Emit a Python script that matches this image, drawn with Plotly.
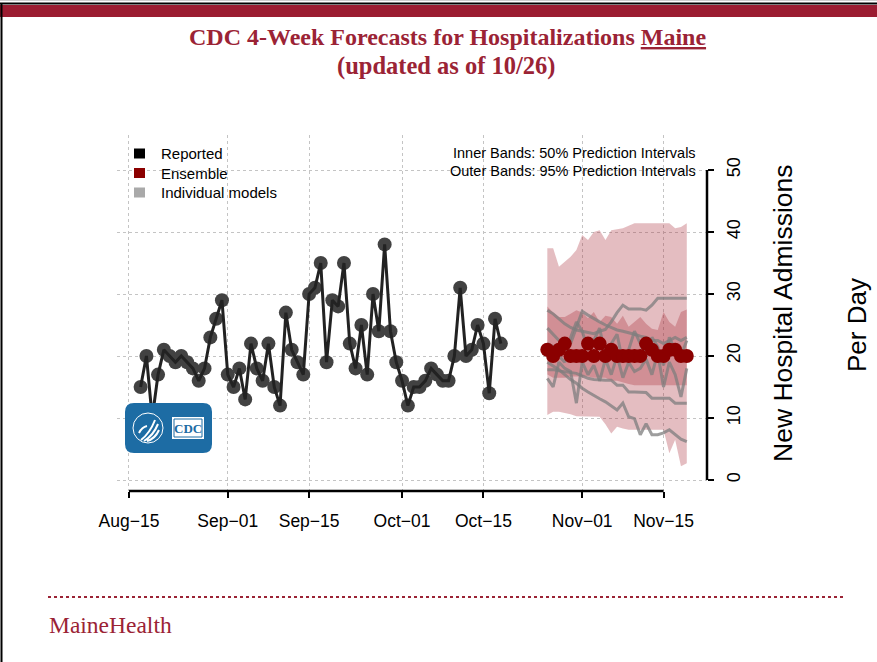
import pandas as pd
import plotly.graph_objects as go

# ---------------- data ----------------
reported_start = "2021-08-17"
reported = [15, 20, 10, 17, 21, 20, 19, 20, 19, 18, 16, 18, 23, 26, 29,
            17, 15, 18, 13, 22, 18, 16, 22, 15, 12, 27, 21, 19, 17, 30,
            31, 35, 19, 29, 28, 35, 22, 18, 25, 17, 30, 24, 38, 24, 19,
            16, 12, 15, 15, 16, 18, 17, 16, 16, 20, 31, 20, 21, 25, 22, 14, 26, 22]

forecast_start = "2021-10-26"
ensemble = [21, 20, 21, 22, 20, 20, 20, 22, 20, 22, 20, 21, 20, 20, 20, 20, 20,
            22, 21, 20, 20, 21, 21, 20, 20]
upper95 = [37.4, 37.4, 34.4, 35.2, 36, 37.1, 39.5, 38.7, 40, 40.3, 38.7, 40.3, 40.4,
           40.6, 41, 41.4, 41.4, 41.4, 41.4, 41.4, 41.4, 41.4, 40.6, 40.8, 41.4]
lower95 = [10.5, 11, 11, 10.8, 10.6, 10.3, 10.2, 10.2, 10.2, 10.2, 9, 7.5, 8.6, 8.3,
           8.1, 8.1, 8.1, 8.1, 8.1, 8.1, 8.1, 4.3, 6.5, 2.2, 2.7]
upper50 = [28, 27, 26.3, 26.3, 26.8, 27.4, 27, 26.1, 27.1, 25.5, 26.5, 26.3, 25.2,
           26.5, 24.7, 25.5, 26.3, 25.2, 24.4, 24.2, 27.1, 25.5, 24.7, 27.1, 27.5]
lower50 = [17, 16.5, 16.5, 16.5, 16.7, 16.7, 16.7, 16.7, 16.5, 16.5, 16.5, 16, 16,
           15.8, 15.5, 15.3, 15.3, 15.3, 15.3, 15.3, 15.3, 15.3, 15.3, 15.3, 15.3]

model_1 = [27.4, 26.8, 26, 25.2, 24.6, 24.2, 24, 23.8, 23.6, 24, 24.3, 25.5, 27, 28.2,
           27.6, 27.6, 27.6, 27.4, 28.2, 29.3, 29.3, 29.3, 29.3, 29.3, 29.3]
model_2 = [24.5, 23.5, 22.5, 21.5, 22, 24.5, 27.2, 26.6, 26, 25.5, 25, 24.6, 24.2, 24,
           23.8, 23.5, 23.2, 23, 22.5, 22.5, 22, 22.5, 23, 22.5, 23]
model_3 = [16.4, 15, 19, 18, 17.5, 12.4, 19, 17, 18.5, 16, 19.5, 17, 20, 16.5, 19,
           17.5, 18, 19.5, 17, 20.5, 15, 19, 17, 13.4, 18]
model_4 = [17.8, 17.8, 17.6, 17.5, 17.3, 17.2, 16.8, 16.4, 16.2, 16.1, 16.1, 16.1, 15.3,
           15.3, 14.2, 14.2, 14.2, 14.1, 13.2, 13.2, 13.2, 13.2, 12.4, 12.4, 12.4]
model_5 = [19, 18.4, 17.8, 17, 16.2, 15.6, 14.8, 14.2, 13.6, 13.1, 12.6, 12, 11.3, 12.4,
           10.2, 9.9, 7.3, 9.1, 7.3, 7.3, 7.6, 8.1, 7.4, 6.6, 6.2]
model_6 = [22, 21.5, 20, 19, 23, 25.5, 24, 21, 22.5, 24.5, 20, 22, 23.5, 19, 21, 24,
           22, 20, 23, 21.5, 18.5, 23, 21, 20, 22.5]
models = [model_1, model_2, model_3, model_4, model_5, model_6]

tick_dates = ["2021-08-15", "2021-09-01", "2021-09-15", "2021-10-01",
              "2021-10-15", "2021-11-01", "2021-11-15"]
tick_labels = ["Aug\u221215", "Sep\u221201", "Sep\u221215", "Oct\u221201",
               "Oct\u221215", "Nov\u221201", "Nov\u221215"]
y_ticks = [0, 10, 20, 30, 40, 50]

# ---------------- layout geometry (pixels) ----------------
W, H = 877, 662
L, R, T, B = 117, 707, 135, 491
PW, PH = R - L, B - T


def px(x):
    return (x - L) / PW


def py(y):
    return (B - y) / PH


DARKRED = "#9b2335"

rep_dates = pd.date_range(reported_start, periods=len(reported), freq="D")
fc_dates = pd.date_range(forecast_start, periods=len(ensemble), freq="D")
fc_x = list(fc_dates)
fc_x_rev = fc_x[::-1]

fig = go.Figure()

band_color = "rgba(165,35,50,0.30)"
fig.add_trace(go.Scatter(x=fc_x + fc_x_rev, y=upper95 + lower95[::-1], fill="toself",
                         fillcolor=band_color, line=dict(width=0), mode="lines",
                         hoverinfo="skip", showlegend=False))
fig.add_trace(go.Scatter(x=fc_x + fc_x_rev, y=upper50 + lower50[::-1], fill="toself",
                         fillcolor=band_color, line=dict(width=0), mode="lines",
                         hoverinfo="skip", showlegend=False))
for m in models:
    fig.add_trace(go.Scatter(x=fc_x, y=m, mode="lines",
                             line=dict(color="rgba(125,125,125,0.75)", width=3),
                             showlegend=False))
fig.add_trace(go.Scatter(x=fc_x, y=ensemble, mode="lines+markers",
                         line=dict(color="#8b0000", width=2),
                         marker=dict(color="#8b0000", size=14), showlegend=False))
fig.add_trace(go.Scatter(x=rep_dates, y=reported, mode="markers",
                         marker=dict(color="#424242", size=14), showlegend=False))
fig.add_trace(go.Scatter(x=rep_dates, y=reported, mode="lines",
                         line=dict(color="#222222", width=3), showlegend=False))

shapes = []
ann = []

# axis lines (R style, only over tick range)
shapes.append(dict(type="line", xref="x", yref="paper", x0=tick_dates[0], x1=tick_dates[-1],
                   y0=0, y1=0, line=dict(color="black", width=2.5)))
shapes.append(dict(type="line", xref="paper", yref="y", x0=1, x1=1, y0=y_ticks[0],
                   y1=y_ticks[-1], line=dict(color="black", width=2.5)))

# page frame
shapes.append(dict(type="rect", xref="paper", yref="paper", x0=px(0), x1=px(W),
                   y0=py(17), y1=py(5), fillcolor="#9b1c31", line=dict(width=0), layer="above"))
shapes.append(dict(type="line", xref="paper", yref="paper", x0=px(0), x1=px(W),
                   y0=py(3.5), y1=py(3.5), line=dict(color="black", width=2), layer="above"))
shapes.append(dict(type="line", xref="paper", yref="paper", x0=px(0), x1=px(W),
                   y0=py(0.5), y1=py(0.5), line=dict(color="#cccccc", width=1), layer="above"))
shapes.append(dict(type="line", xref="paper", yref="paper", x0=px(1.5), x1=px(1.5),
                   y0=py(3), y1=py(H), line=dict(color="black", width=2), layer="above"))
# footer dotted line
shapes.append(dict(type="line", xref="paper", yref="paper", x0=px(48), x1=px(845),
                   y0=py(597), y1=py(597), line=dict(color=DARKRED, width=2, dash="dot")))

# legend squares
legend_items = [("Reported", "black", 153.5), ("Ensemble", "#8b0000", 173),
                ("Individual models", "#a9a9a9", 192.5)]
for name, col, yc in legend_items:
    shapes.append(dict(type="rect", xref="paper", yref="paper", x0=px(134), x1=px(145),
                       y0=py(yc + 5), y1=py(yc - 5), fillcolor=col, line=dict(width=0)))
    ann.append(dict(text=name, xref="paper", yref="paper", x=px(159), y=py(yc),
                    xanchor="left", yanchor="middle", showarrow=False,
                    font=dict(family="Liberation Sans, Arial", size=15, color="black")))

ann.append(dict(text="Inner Bands: 50% Prediction Intervals", xref="paper", yref="paper",
                x=px(698), y=py(153), xanchor="right", yanchor="middle", showarrow=False,
                font=dict(family="Liberation Sans, Arial", size=14.5, color="black")))
ann.append(dict(text="Outer Bands: 95% Prediction Intervals", xref="paper", yref="paper",
                x=px(698), y=py(171), xanchor="right", yanchor="middle", showarrow=False,
                font=dict(family="Liberation Sans, Arial", size=14.5, color="black")))

# axis title (two parts)
ann.append(dict(text="New Hospital Admissions", xref="paper", yref="paper", x=px(783),
                y=py(313), textangle=-90, showarrow=False, xanchor="center", yanchor="middle",
                font=dict(family="Liberation Sans, Arial", size=26.5, color="black")))
ann.append(dict(text="Per Day", xref="paper", yref="paper", x=px(857),
                y=py(325), textangle=-90, showarrow=False, xanchor="center", yanchor="middle",
                font=dict(family="Liberation Sans, Arial", size=26, color="black")))

# title
ann.append(dict(text="<b>CDC 4-Week Forecasts for Hospitalizations <u>Maine</u></b>",
                xref="paper", yref="paper", x=px(447), y=py(37), showarrow=False,
                xanchor="center", yanchor="middle",
                font=dict(family="Liberation Serif, Times New Roman", size=24, color=DARKRED)))
ann.append(dict(text="<b>(updated as of 10/26)</b>",
                xref="paper", yref="paper", x=px(446), y=py(66), showarrow=False,
                xanchor="center", yanchor="middle",
                font=dict(family="Liberation Serif, Times New Roman", size=24.5, color=DARKRED)))

# footer brand
ann.append(dict(text="MaineHealth", xref="paper", yref="paper", x=px(47), y=py(625),
                showarrow=False, xanchor="left", yanchor="middle",
                font=dict(family="Liberation Serif, Times New Roman", size=23.5, color=DARKRED)))


# CDC logo
def rrect(x0, y0, x1, y1, r):
    X = px
    Y = py
    return (f"M {X(x0+r)},{Y(y0)} L {X(x1-r)},{Y(y0)} Q {X(x1)},{Y(y0)} {X(x1)},{Y(y0+r)} "
            f"L {X(x1)},{Y(y1-r)} Q {X(x1)},{Y(y1)} {X(x1-r)},{Y(y1)} "
            f"L {X(x0+r)},{Y(y1)} Q {X(x0)},{Y(y1)} {X(x0)},{Y(y1-r)} "
            f"L {X(x0)},{Y(y0+r)} Q {X(x0)},{Y(y0)} {X(x0+r)},{Y(y0)} Z")


shapes.append(dict(type="path", xref="paper", yref="paper", path=rrect(125, 403, 212, 453, 9),
                   fillcolor="#1d6ca4", line=dict(width=0), layer="above"))
shapes.append(dict(type="rect", xref="paper", yref="paper", x0=px(172), x1=px(204),
                   y0=py(439), y1=py(417), fillcolor="white", line=dict(width=0), layer="above"))
shapes.append(dict(type="rect", xref="paper", yref="paper", x0=px(174), x1=px(202),
                   y0=py(437), y1=py(419), fillcolor="white",
                   line=dict(color="#1d6ca4", width=1), layer="above"))
shapes.append(dict(type="circle", xref="paper", yref="paper", x0=px(133), x1=px(163),
                   y0=py(443), y1=py(413), line=dict(color="white", width=1), layer="above"))
eagle = (f"M {px(141)},{py(440)} Q {px(150)},{py(433)} {px(155)},{py(420)} "
         f"M {px(144)},{py(441)} Q {px(153)},{py(436)} {px(158)},{py(424)} "
         f"M {px(147)},{py(441)} Q {px(155)},{py(439)} {px(159)},{py(430)} "
         f"M {px(139)},{py(433)} Q {px(142)},{py(427)} {px(147)},{py(426)}")
shapes.append(dict(type="path", xref="paper", yref="paper", path=eagle,
                   line=dict(color="white", width=2), layer="above"))
ann.append(dict(text="<b>CDC</b>", xref="paper", yref="paper", x=px(188), y=py(428),
                showarrow=False, xanchor="center", yanchor="middle",
                font=dict(family="Liberation Serif, Times New Roman", size=13, color="#1d6ca4")))

fig.update_layout(
    width=W, height=H,
    margin=dict(l=L, r=W - R, t=T, b=H - B, pad=0),
    paper_bgcolor="white", plot_bgcolor="white",
    showlegend=False,
    shapes=shapes, annotations=ann,
    xaxis=dict(range=["2021-08-12 22:30", "2021-11-22 11:30"], tickvals=tick_dates,
               ticktext=tick_labels, showgrid=True, gridcolor="#c4c4c4", griddash="dot",
               gridwidth=1, ticks="outside", ticklen=6, tickwidth=2, tickcolor="black",
               showline=False, zeroline=False, ticklabelstandoff=8,
               tickfont=dict(family="Liberation Sans, Arial", size=17.5, color="black")),
    yaxis=dict(range=[-1.774, 55.65], tickvals=y_ticks, side="right", showgrid=True,
               gridcolor="#c4c4c4", griddash="dot", gridwidth=1, ticks="outside",
               ticklen=6, tickwidth=2, tickcolor="black", showline=False, zeroline=False,
               tickangle=-90, ticklabelstandoff=4,
               tickfont=dict(family="Liberation Sans, Arial", size=18, color="black")),
)

fig.write_html("out.html", config={"displayModeBar": False},
               post_script="document.body.style.margin='0';document.body.style.overflow='hidden';")
